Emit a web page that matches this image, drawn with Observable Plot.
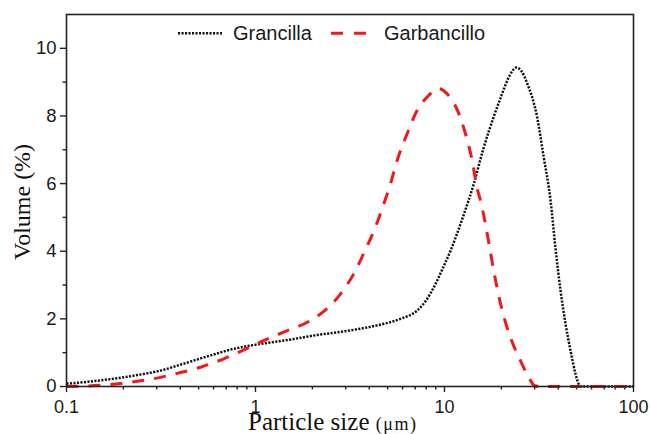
<!DOCTYPE html>
<html>
<head>
<meta charset="utf-8">
<script src="https://cdn.jsdelivr.net/npm/d3@7"></script>
<script src="https://cdn.jsdelivr.net/npm/@observablehq/plot@0.6"></script>
<style>
  body { margin: 0; background: #fff; }
  #chart { width: 650px; height: 434px; }
</style>
</head>
<body>
<div id="chart"></div>
<script>
// Particle size distribution (volume %) of two flours, laser diffraction
const seriesNames = ["Grancilla", "Garbancillo"];

const grancillaSize = [0.1, 0.13, 0.177, 0.25, 0.314, 0.42, 0.578, 0.75, 0.94, 1.2, 1.5, 2.0, 3.18, 4.5, 5.85, 7.18, 8.0, 8.79, 9.8, 10.77, 12.5, 14.3, 16, 18.2, 20, 21.5, 23, 24.0, 25.5, 27.4, 30.9, 33.5, 36.4, 38.6, 41.1, 43.7, 46.4, 49.3, 51.4, 53, 70, 100];
const grancillaVolume = [0.08, 0.14, 0.23, 0.36, 0.47, 0.68, 0.92, 1.10, 1.21, 1.30, 1.38, 1.50, 1.66, 1.82, 2.0, 2.25, 2.55, 2.94, 3.5, 4.02, 5.0, 6.0, 7.0, 7.97, 8.6, 9.05, 9.35, 9.43, 9.33, 8.96, 7.97, 6.78, 5.5, 4.12, 2.84, 1.85, 1.07, 0.38, 0.06, 0, 0, 0];

const garbancilloSize = [0.1, 0.12, 0.171, 0.22, 0.289, 0.38, 0.512, 0.68, 0.866, 1.06, 1.41, 1.95, 2.39, 2.82, 3.31, 3.82, 4.31, 4.74, 5.18, 5.62, 6.35, 7.17, 8.10, 9.33, 10.3, 11.7, 12.9, 14.0, 14.9, 15.5, 17.2, 18.2, 20.2, 22.3, 25.2, 28.5, 30, 32, 60, 100];
const garbancilloVolume = [0, 0.01, 0.06, 0.13, 0.23, 0.38, 0.57, 0.82, 1.08, 1.31, 1.61, 1.95, 2.30, 2.74, 3.33, 4.05, 4.71, 5.35, 6.0, 6.69, 7.48, 8.17, 8.56, 8.81, 8.66, 8.17, 7.48, 6.69, 5.85, 5.5, 4.22, 3.43, 2.25, 1.46, 0.77, 0.18, 0.02, 0, 0, 0];

const xTickValues = [0.1, 1, 10, 100];
const xTickLabels = ["0.1", "1", "10", "100"];
const xMinorTicks = [0.2, 0.3, 0.4, 0.5, 0.6, 0.7, 0.8, 0.9, 2, 3, 4, 5, 6, 7, 8, 9, 20, 30, 40, 50, 60, 70, 80, 90];
const yTickValues = [0, 2, 4, 6, 8, 10];
const yMinorTicks = [1, 3, 5, 7, 9];

const xTitle = "Particle size ";
const xUnit = "(μm)";
const yTitle = "Volume (%)";

const grancilla = grancillaSize.map((s, i) => ({size: s, volume: grancillaVolume[i]}));
const garbancillo = garbancilloSize.map((s, i) => ({size: s, volume: garbancilloVolume[i]}));

const axisStyle = {stroke: "#222", strokeWidth: 1.4, label: null};
const blackLine = {stroke: "#111", strokeWidth: 2.5, strokeDasharray: "2.1,1.4", strokeLinecap: "butt"};
const redLine = {stroke: "#f21818", strokeWidth: 3, strokeDasharray: "12,10", strokeLinecap: "butt"};

const plot = Plot.plot({
  width: 650,
  height: 434,
  marginLeft: 66,
  marginRight: 17,
  marginTop: 14,
  marginBottom: 48,
  x: {type: "log", domain: [0.1, 100]},
  y: {domain: [0, 11]},
  style: {fontFamily: "'Liberation Sans', Arial, sans-serif", fontSize: "18px", color: "#1a1a1a", background: "#fff"},
  marks: [
    Plot.axisX({...axisStyle, ticks: xTickValues, tickFormat: d => xTickLabels[xTickValues.indexOf(d)], tickSize: 6, tickPadding: 8, fontSize: 18}),
    Plot.axisX({...axisStyle, ticks: xMinorTicks, tickFormat: () => "", tickSize: 3.5}),
    Plot.axisY({...axisStyle, ticks: yTickValues, tickFormat: d => String(d), tickSize: 6, tickPadding: 4, fontSize: 18.5}),
    Plot.axisY({...axisStyle, ticks: yMinorTicks, tickFormat: () => "", tickSize: 3.5}),
    Plot.line(grancilla, {x: "size", y: "volume", curve: "monotone-x", ...blackLine}),
    Plot.line(garbancillo, {x: "size", y: "volume", curve: "monotone-x", ...redLine}),
    Plot.frame({stroke: "#222", strokeWidth: 1.6})
  ]
});

document.getElementById("chart").appendChild(plot);

const svg = d3.select(plot);

// axis titles in a serif face
svg.append("text")
  .attr("transform", "translate(30,202) rotate(-90)")
  .attr("text-anchor", "middle")
  .attr("font-family", "'Liberation Serif', 'Times New Roman', serif")
  .attr("font-size", 24)
  .attr("fill", "#111")
  .text(yTitle);

const xt = svg.append("text")
  .attr("x", 248)
  .attr("y", 430)
  .attr("text-anchor", "start")
  .attr("font-family", "'Liberation Serif', 'Times New Roman', serif")
  .attr("fill", "#111");
xt.append("tspan").attr("font-size", 25).text(xTitle);
xt.append("tspan").attr("font-size", 18).attr("letter-spacing", 1.5).text(xUnit);

// legend inside the top of the frame
const legend = svg.append("g")
  .attr("font-family", "'Liberation Sans', Arial, sans-serif")
  .attr("font-size", 20)
  .attr("text-anchor", "start")
  .attr("fill", "#1a1a1a");
const legendItems = [
  {name: seriesNames[0], x0: 178, x1: 222, tx: 233, style: blackLine},
  {name: seriesNames[1], x0: 331, x1: 366, tx: 384, style: {...redLine, strokeDasharray: "12,11"}}
];
for (const it of legendItems) {
  legend.append("line")
    .attr("x1", it.x0).attr("x2", it.x1).attr("y1", 33.3).attr("y2", 33.3)
    .attr("stroke", it.style.stroke)
    .attr("stroke-width", it.style.strokeWidth)
    .attr("stroke-dasharray", it.style.strokeDasharray);
  legend.append("text").attr("x", it.tx).attr("y", 39.5).text(it.name);
}
</script>
</body>
</html>
